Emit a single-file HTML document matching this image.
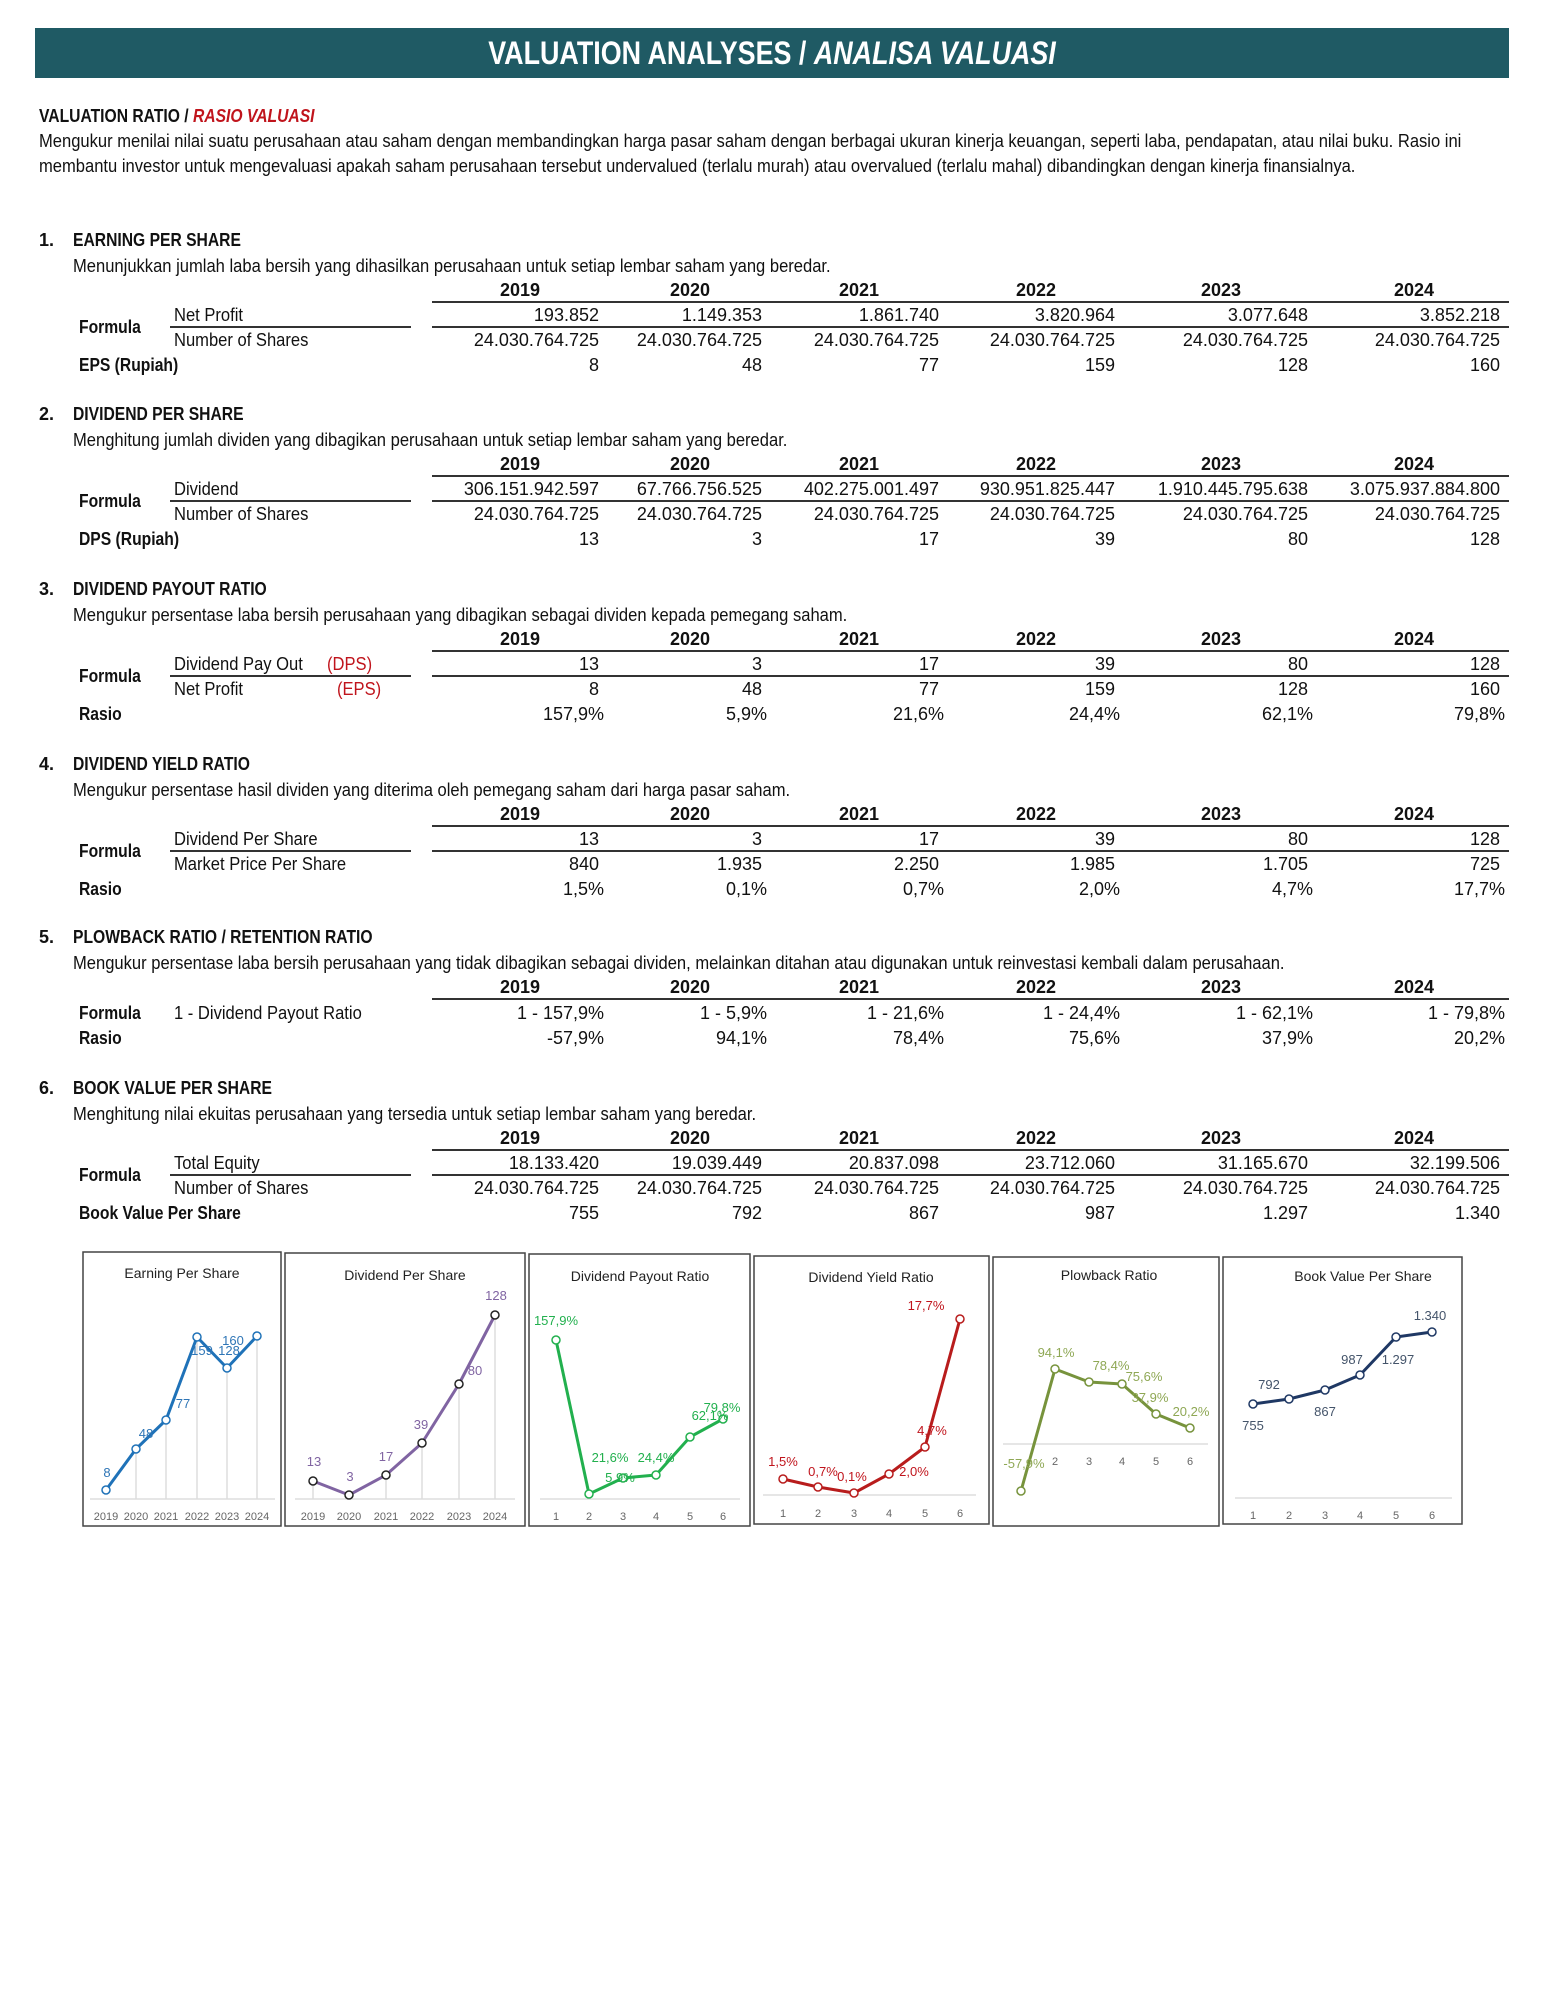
<!DOCTYPE html>
<html><head><meta charset="utf-8"><style>
body{margin:0;background:#fff;}
#p{position:relative;width:1545px;height:2000px;overflow:hidden;font-family:"Liberation Sans Narrow","Liberation Sans",sans-serif;color:#111;font-size:18px;}
#p div{position:absolute;white-space:nowrap;line-height:20px;}
.b{font-weight:bold;}
.hl{height:2px;background:#333;}
.y{width:100px;text-align:center;font-weight:bold;}
.y1{left:470px}.y2{left:640px}.y3{left:809px}.y4{left:986px}.y5{left:1171px}.y6{left:1364px}
.n{text-align:right;}
.c1{right:946px}.c2{right:783px}.c3{right:606px}.c4{right:430px}.c5{right:237px}.c6{right:45px}
.red{color:#c0141c;}
.t{transform:scaleX(.92);transform-origin:left center;}
.bt{transform:scaleX(.87);transform-origin:left center;}
</style></head><body><div id="p">
<div style="left:35px;top:28px;width:1474px;height:50px;background:#1f5a64;"></div>
<div style="left:35px;top:33px;width:1474px;text-align:center;color:#fff;font-weight:bold;font-size:32px;line-height:40px;transform:scaleX(.84);transform-origin:center;">VALUATION ANALYSES / <i>ANALISA VALUASI</i></div>
<div class="b bt" style="left:39px;top:106px;">VALUATION RATIO / <i class="red">RASIO VALUASI</i></div>
<div class="t" style="left:39px;top:131px;">Mengukur menilai nilai suatu perusahaan atau saham dengan membandingkan harga pasar saham dengan berbagai ukuran kinerja keuangan, seperti laba, pendapatan, atau nilai buku. Rasio ini</div>
<div class="t" style="left:39px;top:156px;">membantu investor untuk mengevaluasi apakah saham perusahaan tersebut undervalued (terlalu murah) atau overvalued (terlalu mahal) dibandingkan dengan kinerja finansialnya.</div>

<!-- Section 1 T=240 -->
<div class="b" style="left:39px;top:230px;">1.</div><div class="b bt" style="left:73px;top:230px;">EARNING PER SHARE</div>
<div class="t" style="left:73px;top:256px;">Menunjukkan jumlah laba bersih yang dihasilkan perusahaan untuk setiap lembar saham yang beredar.</div>
<div class="y y1" style="top:280px">2019</div><div class="y y2" style="top:280px">2020</div><div class="y y3" style="top:280px">2021</div><div class="y y4" style="top:280px">2022</div><div class="y y5" style="top:280px">2023</div><div class="y y6" style="top:280px">2024</div>
<div class="hl" style="left:432px;top:301px;width:1077px;"></div>
<div class="t" style="left:174px;top:305px;">Net Profit</div>
<div class="n c1" style="top:305px">193.852</div><div class="n c2" style="top:305px">1.149.353</div><div class="n c3" style="top:305px">1.861.740</div><div class="n c4" style="top:305px">3.820.964</div><div class="n c5" style="top:305px">3.077.648</div><div class="n c6" style="top:305px">3.852.218</div>
<div class="b bt" style="left:79px;top:317px;">Formula</div>
<div class="hl" style="left:170px;top:326px;width:241px;"></div><div class="hl" style="left:432px;top:326px;width:1077px;"></div>
<div class="t" style="left:174px;top:330px;">Number of Shares</div>
<div class="n c1" style="top:330px">24.030.764.725</div><div class="n c2" style="top:330px">24.030.764.725</div><div class="n c3" style="top:330px">24.030.764.725</div><div class="n c4" style="top:330px">24.030.764.725</div><div class="n c5" style="top:330px">24.030.764.725</div><div class="n c6" style="top:330px">24.030.764.725</div>
<div class="b bt" style="left:79px;top:355px;">EPS (Rupiah)</div>
<div class="n c1" style="top:355px">8</div><div class="n c2" style="top:355px">48</div><div class="n c3" style="top:355px">77</div><div class="n c4" style="top:355px">159</div><div class="n c5" style="top:355px">128</div><div class="n c6" style="top:355px">160</div>

<!-- Section 2 T=414 -->
<div class="b" style="left:39px;top:404px;">2.</div><div class="b bt" style="left:73px;top:404px;">DIVIDEND PER SHARE</div>
<div class="t" style="left:73px;top:430px;">Menghitung jumlah dividen yang dibagikan perusahaan untuk setiap lembar saham yang beredar.</div>
<div class="y y1" style="top:454px">2019</div><div class="y y2" style="top:454px">2020</div><div class="y y3" style="top:454px">2021</div><div class="y y4" style="top:454px">2022</div><div class="y y5" style="top:454px">2023</div><div class="y y6" style="top:454px">2024</div>
<div class="hl" style="left:432px;top:475px;width:1077px;"></div>
<div class="t" style="left:174px;top:479px;">Dividend</div>
<div class="n c1" style="top:479px">306.151.942.597</div><div class="n c2" style="top:479px">67.766.756.525</div><div class="n c3" style="top:479px">402.275.001.497</div><div class="n c4" style="top:479px">930.951.825.447</div><div class="n c5" style="top:479px">1.910.445.795.638</div><div class="n c6" style="top:479px">3.075.937.884.800</div>
<div class="b bt" style="left:79px;top:491px;">Formula</div>
<div class="hl" style="left:170px;top:500px;width:241px;"></div><div class="hl" style="left:432px;top:500px;width:1077px;"></div>
<div class="t" style="left:174px;top:504px;">Number of Shares</div>
<div class="n c1" style="top:504px">24.030.764.725</div><div class="n c2" style="top:504px">24.030.764.725</div><div class="n c3" style="top:504px">24.030.764.725</div><div class="n c4" style="top:504px">24.030.764.725</div><div class="n c5" style="top:504px">24.030.764.725</div><div class="n c6" style="top:504px">24.030.764.725</div>
<div class="b bt" style="left:79px;top:529px;">DPS (Rupiah)</div>
<div class="n c1" style="top:529px">13</div><div class="n c2" style="top:529px">3</div><div class="n c3" style="top:529px">17</div><div class="n c4" style="top:529px">39</div><div class="n c5" style="top:529px">80</div><div class="n c6" style="top:529px">128</div>

<!-- Section 3 T=589 -->
<div class="b" style="left:39px;top:579px;">3.</div><div class="b bt" style="left:73px;top:579px;">DIVIDEND PAYOUT RATIO</div>
<div class="t" style="left:73px;top:605px;">Mengukur persentase laba bersih perusahaan yang dibagikan sebagai dividen kepada pemegang saham.</div>
<div class="y y1" style="top:629px">2019</div><div class="y y2" style="top:629px">2020</div><div class="y y3" style="top:629px">2021</div><div class="y y4" style="top:629px">2022</div><div class="y y5" style="top:629px">2023</div><div class="y y6" style="top:629px">2024</div>
<div class="hl" style="left:432px;top:650px;width:1077px;"></div>
<div class="t" style="left:174px;top:654px;">Dividend Pay Out</div><div class="red t" style="left:327px;top:654px;">(DPS)</div>
<div class="n c1" style="top:654px">13</div><div class="n c2" style="top:654px">3</div><div class="n c3" style="top:654px">17</div><div class="n c4" style="top:654px">39</div><div class="n c5" style="top:654px">80</div><div class="n c6" style="top:654px">128</div>
<div class="b bt" style="left:79px;top:666px;">Formula</div>
<div class="hl" style="left:170px;top:675px;width:241px;"></div><div class="hl" style="left:432px;top:675px;width:1077px;"></div>
<div class="t" style="left:174px;top:679px;">Net Profit</div><div class="red t" style="left:337px;top:679px;">(EPS)</div>
<div class="n c1" style="top:679px">8</div><div class="n c2" style="top:679px">48</div><div class="n c3" style="top:679px">77</div><div class="n c4" style="top:679px">159</div><div class="n c5" style="top:679px">128</div><div class="n c6" style="top:679px">160</div>
<div class="b bt" style="left:79px;top:704px;">Rasio</div>
<div class="n c1" style="top:704px;margin-right:-5px">157,9%</div><div class="n c2" style="top:704px;margin-right:-5px">5,9%</div><div class="n c3" style="top:704px;margin-right:-5px">21,6%</div><div class="n c4" style="top:704px;margin-right:-5px">24,4%</div><div class="n c5" style="top:704px;margin-right:-5px">62,1%</div><div class="n c6" style="top:704px;margin-right:-5px">79,8%</div>

<!-- Section 4 T=764 -->
<div class="b" style="left:39px;top:754px;">4.</div><div class="b bt" style="left:73px;top:754px;">DIVIDEND YIELD RATIO</div>
<div class="t" style="left:73px;top:780px;">Mengukur persentase hasil dividen yang diterima oleh pemegang saham dari harga pasar saham.</div>
<div class="y y1" style="top:804px">2019</div><div class="y y2" style="top:804px">2020</div><div class="y y3" style="top:804px">2021</div><div class="y y4" style="top:804px">2022</div><div class="y y5" style="top:804px">2023</div><div class="y y6" style="top:804px">2024</div>
<div class="hl" style="left:432px;top:825px;width:1077px;"></div>
<div class="t" style="left:174px;top:829px;">Dividend Per Share</div>
<div class="n c1" style="top:829px">13</div><div class="n c2" style="top:829px">3</div><div class="n c3" style="top:829px">17</div><div class="n c4" style="top:829px">39</div><div class="n c5" style="top:829px">80</div><div class="n c6" style="top:829px">128</div>
<div class="b bt" style="left:79px;top:841px;">Formula</div>
<div class="hl" style="left:170px;top:850px;width:241px;"></div><div class="hl" style="left:432px;top:850px;width:1077px;"></div>
<div class="t" style="left:174px;top:854px;">Market Price Per Share</div>
<div class="n c1" style="top:854px">840</div><div class="n c2" style="top:854px">1.935</div><div class="n c3" style="top:854px">2.250</div><div class="n c4" style="top:854px">1.985</div><div class="n c5" style="top:854px">1.705</div><div class="n c6" style="top:854px">725</div>
<div class="b bt" style="left:79px;top:879px;">Rasio</div>
<div class="n c1" style="top:879px;margin-right:-5px">1,5%</div><div class="n c2" style="top:879px;margin-right:-5px">0,1%</div><div class="n c3" style="top:879px;margin-right:-5px">0,7%</div><div class="n c4" style="top:879px;margin-right:-5px">2,0%</div><div class="n c5" style="top:879px;margin-right:-5px">4,7%</div><div class="n c6" style="top:879px;margin-right:-5px">17,7%</div>

<!-- Section 5 T=937 -->
<div class="b" style="left:39px;top:927px;">5.</div><div class="b bt" style="left:73px;top:927px;">PLOWBACK RATIO / RETENTION RATIO</div>
<div class="t" style="left:73px;top:953px;">Mengukur persentase laba bersih perusahaan yang tidak dibagikan sebagai dividen, melainkan ditahan atau digunakan untuk reinvestasi kembali dalam perusahaan.</div>
<div class="y y1" style="top:977px">2019</div><div class="y y2" style="top:977px">2020</div><div class="y y3" style="top:977px">2021</div><div class="y y4" style="top:977px">2022</div><div class="y y5" style="top:977px">2023</div><div class="y y6" style="top:977px">2024</div>
<div class="hl" style="left:432px;top:998px;width:1077px;"></div>
<div class="b bt" style="left:79px;top:1003px;">Formula</div><div class="t" style="left:174px;top:1003px;">1 - Dividend Payout Ratio</div>
<div class="n c1" style="top:1003px;margin-right:-5px">1 - 157,9%</div><div class="n c2" style="top:1003px;margin-right:-5px">1 - 5,9%</div><div class="n c3" style="top:1003px;margin-right:-5px">1 - 21,6%</div><div class="n c4" style="top:1003px;margin-right:-5px">1 - 24,4%</div><div class="n c5" style="top:1003px;margin-right:-5px">1 - 62,1%</div><div class="n c6" style="top:1003px;margin-right:-5px">1 - 79,8%</div>
<div class="b bt" style="left:79px;top:1028px;">Rasio</div>
<div class="n c1" style="top:1028px;margin-right:-5px">-57,9%</div><div class="n c2" style="top:1028px;margin-right:-5px">94,1%</div><div class="n c3" style="top:1028px;margin-right:-5px">78,4%</div><div class="n c4" style="top:1028px;margin-right:-5px">75,6%</div><div class="n c5" style="top:1028px;margin-right:-5px">37,9%</div><div class="n c6" style="top:1028px;margin-right:-5px">20,2%</div>

<!-- Section 6 T=1088 -->
<div class="b" style="left:39px;top:1078px;">6.</div><div class="b bt" style="left:73px;top:1078px;">BOOK VALUE PER SHARE</div>
<div class="t" style="left:73px;top:1104px;">Menghitung nilai ekuitas perusahaan yang tersedia untuk setiap lembar saham yang beredar.</div>
<div class="y y1" style="top:1128px">2019</div><div class="y y2" style="top:1128px">2020</div><div class="y y3" style="top:1128px">2021</div><div class="y y4" style="top:1128px">2022</div><div class="y y5" style="top:1128px">2023</div><div class="y y6" style="top:1128px">2024</div>
<div class="hl" style="left:432px;top:1149px;width:1077px;"></div>
<div class="t" style="left:174px;top:1153px;">Total Equity</div>
<div class="n c1" style="top:1153px">18.133.420</div><div class="n c2" style="top:1153px">19.039.449</div><div class="n c3" style="top:1153px">20.837.098</div><div class="n c4" style="top:1153px">23.712.060</div><div class="n c5" style="top:1153px">31.165.670</div><div class="n c6" style="top:1153px">32.199.506</div>
<div class="b bt" style="left:79px;top:1165px;">Formula</div>
<div class="hl" style="left:170px;top:1174px;width:241px;"></div><div class="hl" style="left:432px;top:1174px;width:1077px;"></div>
<div class="t" style="left:174px;top:1178px;">Number of Shares</div>
<div class="n c1" style="top:1178px">24.030.764.725</div><div class="n c2" style="top:1178px">24.030.764.725</div><div class="n c3" style="top:1178px">24.030.764.725</div><div class="n c4" style="top:1178px">24.030.764.725</div><div class="n c5" style="top:1178px">24.030.764.725</div><div class="n c6" style="top:1178px">24.030.764.725</div>
<div class="b bt" style="left:79px;top:1203px;">Book Value Per Share</div>
<div class="n c1" style="top:1203px">755</div><div class="n c2" style="top:1203px">792</div><div class="n c3" style="top:1203px">867</div><div class="n c4" style="top:1203px">987</div><div class="n c5" style="top:1203px">1.297</div><div class="n c6" style="top:1203px">1.340</div>

<svg style="position:absolute;left:0;top:0" width="1545" height="2000" font-family="Liberation Sans Narrow, Liberation Sans, sans-serif">
<g fill="#fff" stroke="#444" stroke-width="1.5">
<rect x="83" y="1252" width="198" height="274"/><rect x="285" y="1253" width="240" height="273"/><rect x="529" y="1254" width="221" height="272"/>
<rect x="754" y="1256" width="235" height="268"/><rect x="993" y="1257" width="226" height="269"/><rect x="1223" y="1257" width="239" height="267"/>
</g>
<g font-size="14" fill="#222" text-anchor="middle">
<text x="182" y="1278">Earning Per Share</text><text x="405" y="1280">Dividend  Per Share</text><text x="640" y="1281">Dividend  Payout Ratio</text>
<text x="871" y="1282">Dividend  Yield Ratio</text><text x="1109" y="1280">Plowback Ratio</text><text x="1363" y="1281">Book Value Per Share</text>
</g>
<g stroke="#ddd" stroke-width="1.5">
<line x1="90" y1="1499" x2="275" y2="1499"/><line x1="295" y1="1499" x2="515" y2="1499"/><line x1="540" y1="1499" x2="740" y2="1499"/>
<line x1="763" y1="1495" x2="976" y2="1495"/><line x1="1003" y1="1444" x2="1208" y2="1444"/><line x1="1235" y1="1498" x2="1452" y2="1498"/>
<line x1="136" y1="1449" x2="136" y2="1499"/><line x1="166" y1="1420" x2="166" y2="1499"/><line x1="197" y1="1337" x2="197" y2="1499"/><line x1="227" y1="1368" x2="227" y2="1499"/><line x1="257" y1="1336" x2="257" y2="1499"/>
<line x1="313" y1="1481" x2="313" y2="1499"/><line x1="386" y1="1475" x2="386" y2="1499"/><line x1="422" y1="1443" x2="422" y2="1499"/><line x1="459" y1="1384" x2="459" y2="1499"/><line x1="495" y1="1315" x2="495" y2="1499"/>
</g>
<g font-size="11" fill="#666" text-anchor="middle">
<text x="106" y="1520">2019</text><text x="136" y="1520">2020</text><text x="166" y="1520">2021</text><text x="197" y="1520">2022</text><text x="227" y="1520">2023</text><text x="257" y="1520">2024</text>
<text x="313" y="1520">2019</text><text x="349" y="1520">2020</text><text x="386" y="1520">2021</text><text x="422" y="1520">2022</text><text x="459" y="1520">2023</text><text x="495" y="1520">2024</text>
<text x="556" y="1520">1</text><text x="589" y="1520">2</text><text x="623" y="1520">3</text><text x="656" y="1520">4</text><text x="690" y="1520">5</text><text x="723" y="1520">6</text>
<text x="783" y="1517">1</text><text x="818" y="1517">2</text><text x="854" y="1517">3</text><text x="889" y="1517">4</text><text x="925" y="1517">5</text><text x="960" y="1517">6</text>
<text x="1055" y="1465">2</text><text x="1089" y="1465">3</text><text x="1122" y="1465">4</text><text x="1156" y="1465">5</text><text x="1190" y="1465">6</text>
<text x="1253" y="1519">1</text><text x="1289" y="1519">2</text><text x="1325" y="1519">3</text><text x="1360" y="1519">4</text><text x="1396" y="1519">5</text><text x="1432" y="1519">6</text>
</g>
<g fill="none" stroke-width="3" stroke-linejoin="round">
<polyline stroke="#1f72b8" points="106,1490 136,1449 166,1420 197,1337 227,1368 257,1336"/>
<polyline stroke="#8064a2" points="313,1481 349,1495 386,1475 422,1443 459,1384 495,1315"/>
<polyline stroke="#22b04e" points="556,1340 589,1494 623,1478 656,1475 690,1437 723,1419"/>
<polyline stroke="#b81c1c" points="783,1479 818,1487 854,1493 889,1474 925,1447 960,1319"/>
<polyline stroke="#77933c" points="1021,1491 1055,1369 1089,1382 1122,1384 1156,1414 1190,1428"/>
<polyline stroke="#1f3864" points="1253,1404 1289,1399 1325,1390 1360,1375 1396,1337 1432,1332"/>
</g>
<g fill="#fff" stroke-width="1.5">
<g stroke="#1f72b8"><circle cx="106" cy="1490" r="4"/><circle cx="136" cy="1449" r="4"/><circle cx="166" cy="1420" r="4"/><circle cx="197" cy="1337" r="4"/><circle cx="227" cy="1368" r="4"/><circle cx="257" cy="1336" r="4"/></g>
<g stroke="#222"><circle cx="313" cy="1481" r="4"/><circle cx="349" cy="1495" r="4"/><circle cx="386" cy="1475" r="4"/><circle cx="422" cy="1443" r="4"/><circle cx="459" cy="1384" r="4"/><circle cx="495" cy="1315" r="4"/></g>
<g stroke="#22b04e"><circle cx="556" cy="1340" r="4"/><circle cx="589" cy="1494" r="4"/><circle cx="623" cy="1478" r="4"/><circle cx="656" cy="1475" r="4"/><circle cx="690" cy="1437" r="4"/><circle cx="723" cy="1419" r="4"/></g>
<g stroke="#b81c1c"><circle cx="783" cy="1479" r="4"/><circle cx="818" cy="1487" r="4"/><circle cx="854" cy="1493" r="4"/><circle cx="889" cy="1474" r="4"/><circle cx="925" cy="1447" r="4"/><circle cx="960" cy="1319" r="4"/></g>
<g stroke="#77933c"><circle cx="1021" cy="1491" r="4"/><circle cx="1055" cy="1369" r="4"/><circle cx="1089" cy="1382" r="4"/><circle cx="1122" cy="1384" r="4"/><circle cx="1156" cy="1414" r="4"/><circle cx="1190" cy="1428" r="4"/></g>
<g stroke="#1f3864"><circle cx="1253" cy="1404" r="4"/><circle cx="1289" cy="1399" r="4"/><circle cx="1325" cy="1390" r="4"/><circle cx="1360" cy="1375" r="4"/><circle cx="1396" cy="1337" r="4"/><circle cx="1432" cy="1332" r="4"/></g>
</g>
<g font-size="13" text-anchor="middle">
<g fill="#2e75b6"><text x="107" y="1477">8</text><text x="146" y="1438">48</text><text x="183" y="1408">77</text><text x="202" y="1355">159</text><text x="229" y="1355">128</text><text x="233" y="1345">160</text></g>
<g fill="#8064a2"><text x="314" y="1466">13</text><text x="350" y="1481">3</text><text x="386" y="1461">17</text><text x="421" y="1429">39</text><text x="475" y="1375">80</text><text x="496" y="1300">128</text></g>
<g fill="#22b04e"><text x="556" y="1325">157,9%</text><text x="610" y="1462">21,6%</text><text x="620" y="1482">5,9%</text><text x="656" y="1462">24,4%</text><text x="710" y="1420">62,1%</text><text x="722" y="1412">79,8%</text></g>
<g fill="#c0141c"><text x="783" y="1466">1,5%</text><text x="823" y="1476">0,7%</text><text x="852" y="1481">0,1%</text><text x="914" y="1476">2,0%</text><text x="932" y="1435">4,7%</text><text x="926" y="1310">17,7%</text></g>
<g fill="#8fa855"><text x="1024" y="1468">-57,9%</text><text x="1056" y="1357">94,1%</text><text x="1111" y="1370">78,4%</text><text x="1144" y="1381">75,6%</text><text x="1150" y="1402">37,9%</text><text x="1191" y="1416">20,2%</text></g>
<g fill="#44546a"><text x="1253" y="1430">755</text><text x="1269" y="1389">792</text><text x="1325" y="1416">867</text><text x="1352" y="1364">987</text><text x="1398" y="1364">1.297</text><text x="1430" y="1320">1.340</text></g>
</g>
</svg>
</div></body></html>
